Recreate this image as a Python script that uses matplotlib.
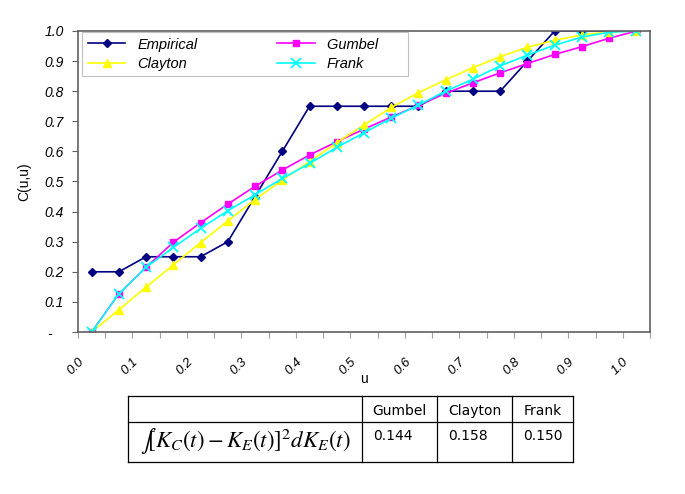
import matplotlib.pyplot as plt
import numpy as np

# data (21 categories, u = 0.00 .. 1.00 step 0.05)
u_labels = ['0.0', '0.1', '0.2', '0.3', '0.4', '0.5', '0.6', '0.7', '0.8', '0.9', '1.0']
empirical = [0.20, 0.20, 0.25, 0.25, 0.25, 0.30, 0.45, 0.60, 0.75, 0.75, 0.75,
             0.75, 0.75, 0.80, 0.80, 0.80, 0.90, 1.00, 1.00, 1.00, 1.00]
gumbel = [0.0, 0.127, 0.215, 0.298, 0.363, 0.425, 0.484, 0.538, 0.588, 0.632, 0.674,
          0.714, 0.753, 0.793, 0.828, 0.861, 0.892, 0.922, 0.948, 0.976, 1.0]
clayton = [0.0, 0.074, 0.149, 0.223, 0.297, 0.369, 0.440, 0.505, 0.566, 0.629, 0.688,
           0.746, 0.795, 0.838, 0.878, 0.915, 0.946, 0.969, 0.987, 0.997, 1.0]
frank = [0.0, 0.127, 0.215, 0.281, 0.344, 0.403, 0.456, 0.510, 0.560, 0.613, 0.662,
         0.710, 0.754, 0.800, 0.840, 0.884, 0.920, 0.953, 0.980, 0.996, 1.0]
y_ticks = [0.0, 0.1, 0.2, 0.3, 0.4, 0.5, 0.6, 0.7, 0.8, 0.9, 1.0]
y_labels = ['-   ', '0.1', '0.2', '0.3', '0.4', '0.5', '0.6', '0.7', '0.8', '0.9', '1.0']

table_cols = ['Gumbel', 'Clayton', 'Frank']
table_vals = ['0.144', '0.158', '0.150']

plt.rcParams['font.family'] = ['Liberation Sans', 'DejaVu Sans']

fig = plt.figure(figsize=(6.85, 4.94), dpi=100)
ax = fig.add_axes([78/685, 1-332/494, 572/685, 301/494])

x = np.arange(len(empirical))
l1, = ax.plot(x, empirical, color='#000080', marker='D', ms=4.5, lw=1.2, label='Empirical')
l2, = ax.plot(x, gumbel, color='#FF00FF', marker='s', ms=4.2, lw=1.2, label='Gumbel')
l3, = ax.plot(x, clayton, color='#FFFF00', marker='^', ms=5.5, lw=1.2, label='Clayton')
l4, = ax.plot(x, frank, color='#00FFFF', marker='x', ms=7, mew=1.3, lw=1.2, label='Frank')

ax.set_xlim(-0.5, len(x) - 0.5)
ax.set_ylim(0, 1)
ax.set_yticks(y_ticks)
ax.set_yticklabels(y_labels, fontstyle='italic', fontsize=10)
ax.xaxis.remove_overlapping_locs = False
ax.set_xticks(np.arange(-0.5, len(x)))
ax.set_xticklabels([])
# labels sit at the left boundary of every second category
ax.set_xticks(np.arange(0, len(x), 2) - 0.5, minor=True)
ax.set_xticklabels(u_labels, minor=True, rotation=45, ha='right', va='top',
                   rotation_mode='anchor', fontstyle='italic', fontsize=9.5)
ax.tick_params(axis='x', which='minor', length=0, pad=17)
ax.tick_params(axis='x', which='major', length=4, color='#a0a0a0')
ax.tick_params(axis='y', length=4, color='#606060', pad=6)
for s in ax.spines.values():
    s.set_color('#606060')
    s.set_linewidth(1.2)

ax.set_ylabel('C(u,u)', fontsize=10, labelpad=10)
fig.text(364/685, 1-379/494, 'u', fontsize=10, ha='center', va='center')

leg = ax.legend([l1, l3, l2, l4], ['Empirical', 'Clayton', 'Gumbel' + ' ' * 6, 'Frank'],
                ncol=2, loc='upper left', bbox_to_anchor=(4/572, 1 - 1/301),
                fancybox=False, edgecolor='#c0c0c0', framealpha=1,
                prop={'style': 'italic', 'size': 10.5}, handlelength=2.6,
                columnspacing=5.5, borderpad=0.38, labelspacing=0.35, borderaxespad=0)
leg.get_frame().set_linewidth(0.8)

# table below the chart
tx = fig.add_axes([0, 0, 1, 1], facecolor='none')
tx.set_xlim(0, 685)
tx.set_ylim(494, 0)
tx.axis('off')
xs = [128, 362, 437, 512, 573]
ys = [396, 422, 462]
for yy in ys:
    tx.plot([xs[0], xs[-1]], [yy, yy], color='black', lw=0.9)
for xx in xs:
    tx.plot([xx, xx], [ys[0], ys[-1]], color='black', lw=0.9)
for i, name in enumerate(table_cols):
    tx.text((xs[i+1] + xs[i+2]) / 2, 411, name, family='DejaVu Sans', fontsize=10,
            ha='center', va='center')
    tx.text(xs[i+1] + 11, 436, table_vals[i], family='DejaVu Sans', fontsize=10,
            ha='left', va='center')
tx.text(245, 442, r'$\int\!\left[K_C(t) - K_E(t)\right]^2 dK_E(t)$', fontsize=16.5,
        math_fontfamily='stix', ha='center', va='center')

fig.savefig('out.png', dpi=100)
